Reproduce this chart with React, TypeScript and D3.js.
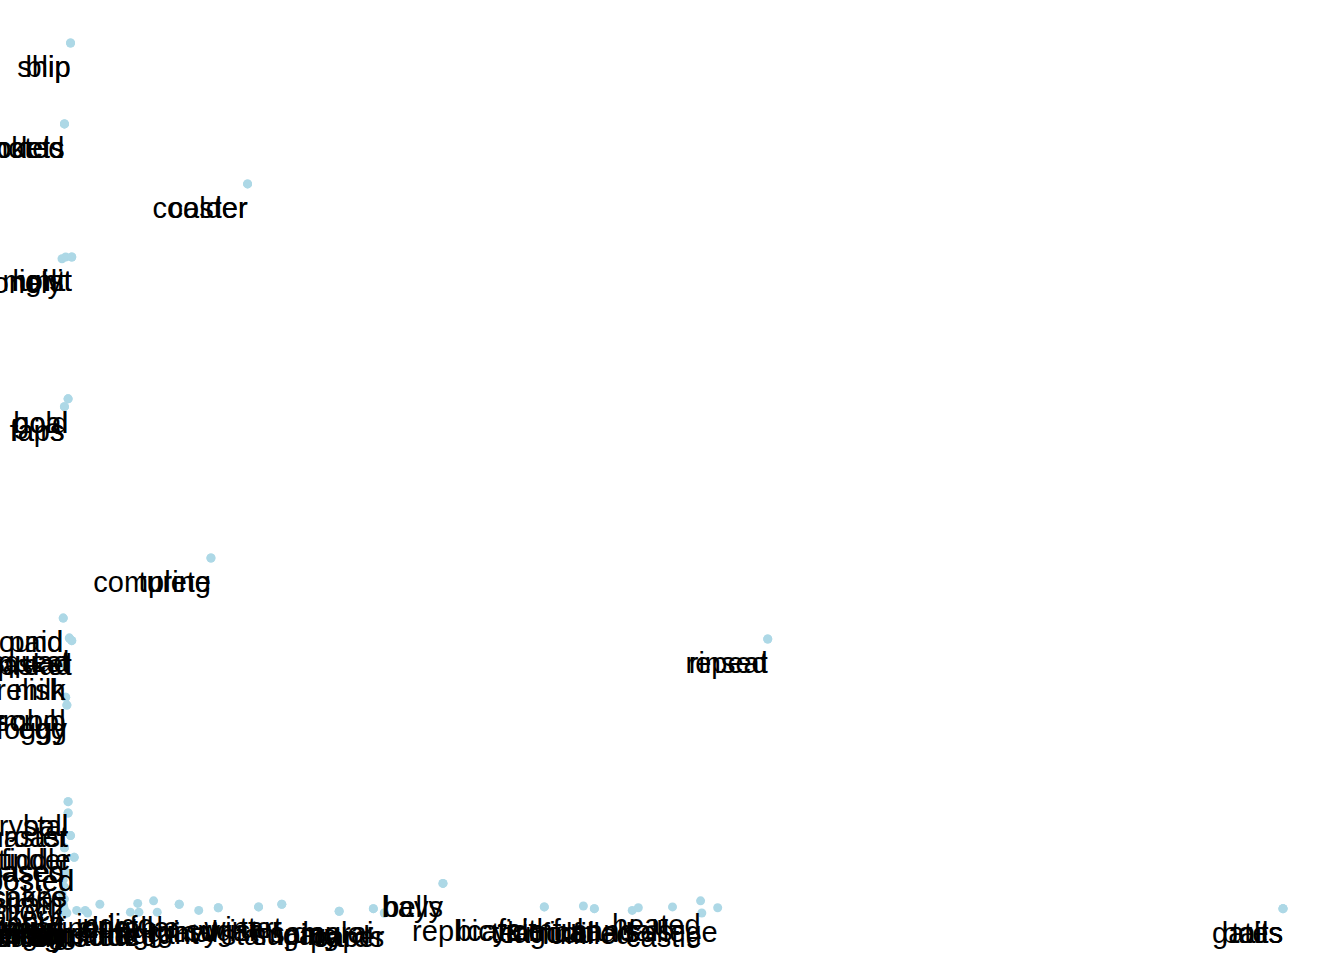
import React from 'react';
import * as d3 from 'd3';

// one entry per point; words sharing a position sit on top of each other
const words = [
  'ship', 'blip', 'noted', 'rockets', 'models', 'coaster', 'colder',
  'lonely', 'light', 'moist', 'unlit', 'hold', 'goal', 'fairs', 'laps',
  'complete', 'turing', 'pound', 'paid', 'squad', 'quest', 'spread', 'basket',
  'repeat', 'rinsed', 'milk', 'relish', 'symbol', 'scrub', 'foggy', 'egg',
  'crystal', 'ball', 'master', 'roast', 'fiddle', 'tinder', 'bases', 'eased',
  'posted', 'frosted', 'cakes', 'snake', 'strain', 'hammock', 'bakery', 'zebra',
  'lemon', 'vault', 'strength', 'melody', 'hedgehog', 'sparrow',
  'gardening', 'bandage', 'ingredients', 'tangerine', 'horrified', 'grief',
  'magnitude', 'indigo', 'clued', 'durable', 'fragrant', 'virginal',
  'wrist', 'sugar', 'tart', 'winter', 'stamping', 'samurai', 'dealer',
  'cards', 'paper', 'belly', 'bays', 'replication', 'bicycle', 'faithful',
  'terminal', 'fulfilled', 'canals', 'sandals', 'heated', 'castle', 'college',
  'gates', 'bolts', 'tails', 'singular', 'gravy', 'sugary', 'lagoon',
];

const xValues = [
  0.7, 0.7, 0.2, 0.2, 0.2, 15.2, 15.2,
  0, 0.3, 0.8, 0.8, 0.5, 0.5, 0.2, 0.2,
  12.2, 12.2, 0.1, 0.1, 0.6, 0.6, 0.8, 0.8,
  57.8, 57.8, 0.3, 0.3, 0.3, 0.3, 0.4, 0.4,
  0.5, 0.5, 0.5, 0.5, 0.7, 0.7, 0.2, 0.2,
  1.0, 1.0, 0.4, 0.4, 0.1, 0.2, 0, 0.2,
  0.1, 0.1, 0, 0.3, 0.2, 0.4,
  1.2, 1.9, 2.1, 3.1, 5.6, 6.2,
  6.3, 7.5, 7.8, 9.6, 11.2, 12.8,
  16.1, 16.1, 18.0, 18.0, 22.7, 25.5, 25.5,
  26.4, 26.4, 31.2, 31.2, 39.5, 39.5, 42.7,
  43.6, 46.7, 47.2, 50.0, 52.3, 52.4, 53.7,
  100, 100, 100, 9.6, 12.8, 22.7, 43.6,
];

const yValues = [
  100, 100, 90.7, 90.7, 90.7, 83.8, 83.8,
  75.2, 75.4, 75.4, 75.4, 59.1, 59.1, 58.2, 58.2,
  40.8, 40.8, 33.9, 33.9, 31.6, 31.6, 31.3, 31.3,
  31.5, 31.5, 28.4, 28.4, 24.8, 24.8, 23.9, 23.9,
  12.8, 12.8, 11.5, 11.5, 8.9, 8.9, 7.5, 7.5,
  6.4, 6.4, 4.6, 4.6, 3.8, 3.0, 2.3, 1.6,
  0.9, 0.9, 0.2, 0, 0.4, 0,
  0.3, 0.3, 0, 1.0, 0.1, 1.1,
  0.1, 1.4, 0.1, 1.0, 0.3, 0.6,
  0.7, 0.7, 1.0, 1.0, 0.2, 0.5, 0.5,
  0, 0, 3.4, 3.4, 0.7, 0.7, 0.8,
  0.5, 0.3, 0.6, 0.7, 1.4, 0, 0.6,
  0.5, 0.5, 0.5, 1.0, 0.6, 0.2, 0.5,
];

const width = 1344;
const height = 960;

export default function App() {
  const x = d3.scaleLinear().domain([0, 100]).range([62, 1283]);
  const y = d3.scaleLinear().domain([0, 100]).range([913, 43]);
  const pts = words.map((w, i) => ({ w, x: xValues[i], y: yValues[i] }));

  return (
    <svg
      width={width}
      height={height}
      style={{ position: 'absolute', left: 0, top: 0, background: '#fff' }}
    >
      <g>
        {pts.map((d, i) => (
          <circle key={i} cx={x(d.x)} cy={y(d.y)} r={4.5} fill="#add8e6" />
        ))}
      </g>
      <g fontFamily="'Liberation Sans', Arial, Helvetica, sans-serif" fontSize={29} fill="#000">
        {pts.map((d, i) => (
          <text key={i} x={x(d.x)} y={y(d.y) + 34} textAnchor="end">
            {d.w}
          </text>
        ))}
      </g>
    </svg>
  );
}
